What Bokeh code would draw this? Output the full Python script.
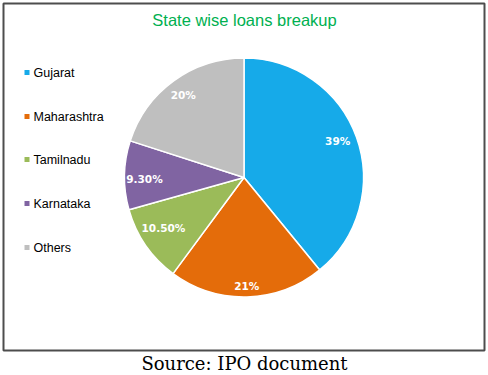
import numpy as np
from bokeh.plotting import figure
from bokeh.models import Range1d, ColumnDataSource
from bokeh.core.properties import value
from bokeh.embed import file_html
from bokeh.resources import INLINE

states = ["Gujarat", "Maharashtra", "Tamilnadu", "Karnataka", "Others"]
shares = [39.0, 21.0, 10.5, 9.3, 20.0]
labels = ["39%", "21%", "10.50%", "9.30%", "20%"]
colors = ["#16AAE9", "#E46C0A", "#9BBB59", "#8064A2", "#BFBFBF"]
title_text = "State wise loans breakup"
source_text = "Source: IPO document"

# label placement style (radius fraction and small pixel nudges)
label_rfrac = [0.85, 0.91, 0.85, 0.85, 0.85]
label_dx = [-2, 0, 3, 2, -1]
label_dy = [2, 0, 7, -3, 0]

W, H = 488, 375
p = figure(width=W, height=H, output_backend="svg", toolbar_location=None,
           x_range=Range1d(0, W), y_range=Range1d(0, H), min_border=0)
p.axis.visible = False
p.grid.visible = False
p.outline_line_color = None
p.background_fill_color = "white"
p.border_fill_color = "white"

def Y(y):
    return H - np.asarray(y, dtype=float)

# chart frame
p.rect(x=[243.5], y=[float(Y(176.5))], width=[481], height=[347], fill_color=None,
       line_color="#4D4D4D", line_width=2)

cx, cy, R = 243.5, float(Y(177)), 119.5
tot = sum(shares)
fr = np.array(shares) / tot
ends = np.cumsum(fr)
starts = ends - fr
start_ang = np.pi / 2 - ends * 2 * np.pi
end_ang = np.pi / 2 - starts * 2 * np.pi
mid = (start_ang + end_ang) / 2
src = ColumnDataSource(dict(start=start_ang, end=end_ang, color=colors))
p.wedge(x=cx, y=cy, radius=R, start_angle="start", end_angle="end",
        fill_color="color", line_color="white", line_width=1.5, source=src)

lr = np.array(label_rfrac) * R
lx = cx + lr * np.cos(mid) + np.array(label_dx)
ly = cy + lr * np.sin(mid) + np.array(label_dy)
p.text(x=lx, y=ly, text=labels, text_color="white", text_align="center",
       text_baseline="middle", text_font=value("DejaVu Sans"),
       text_font_style="bold", text_font_size="10.5px")

# title
p.text(x=[244], y=[float(Y(19))], text=[title_text], text_color="#00B050",
       text_align="center", text_baseline="middle",
       text_font=value("Liberation Sans"), text_font_size="16.5px")

# legend
leg_y = Y([72, 116, 159, 203, 247])
p.rect(x=[26.5] * 5, y=leg_y, width=[5] * 5, height=[5] * 5,
       fill_color=colors, line_color=None)
p.text(x=[33] * 5, y=leg_y, text=states, text_color="black",
       text_align="left", text_baseline="middle",
       text_font=value("Liberation Sans"), text_font_size="12.5px")

# source
p.text(x=[244], y=[float(Y(363))], text=[source_text], text_color="black",
       text_align="center", text_baseline="middle",
       text_font=value("DejaVu Serif"), text_font_size="18px")

open("out.html", "w").write(file_html(p, INLINE))
